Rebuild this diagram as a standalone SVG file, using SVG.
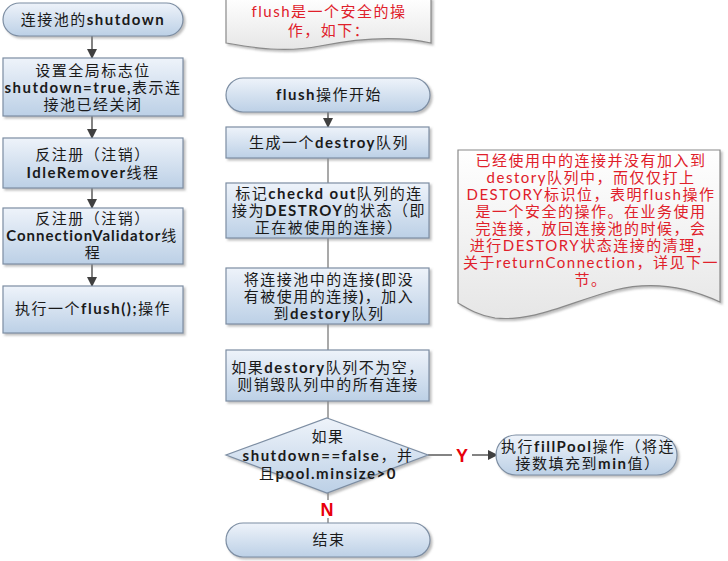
<svg xmlns="http://www.w3.org/2000/svg" width="728" height="561" viewBox="0 0 728 561">
<defs>
<linearGradient id="gBox" x1="0" y1="0" x2="0" y2="1">
<stop offset="0" stop-color="#eef3fa"/>
<stop offset="1" stop-color="#bcd0e6"/>
</linearGradient>
<linearGradient id="gNote" x1="0" y1="0" x2="0" y2="1">
<stop offset="0" stop-color="#ffffff"/>
<stop offset="1" stop-color="#e6e6e6"/>
</linearGradient>
<filter id="sh" x="-10%" y="-10%" width="130%" height="140%">
<feDropShadow dx="2" dy="2" stdDeviation="1.3" flood-color="#888" flood-opacity="0.55"/>
</filter>
<marker id="ah" markerWidth="10" markerHeight="10" refX="9" refY="5" orient="auto" markerUnits="userSpaceOnUse">
<path d="M0,0 L10,5 L0,10 Z" fill="#404040"/>
</marker>
</defs>
<style>
.box{fill:url(#gBox);stroke:#7d8ea3;stroke-width:1.2;filter:url(#sh)}
.note{fill:url(#gNote);stroke:#8a8a8a;stroke-width:1.2;filter:url(#sh)}
text{font-family:"Lato","Noto Sans CJK SC",sans-serif;font-size:15px;letter-spacing:1.5px;fill:#1a1a1a;text-anchor:middle}
.b{font-weight:bold}
.red{fill:#e0202a}
.lbl{font-family:"Liberation Sans",sans-serif;font-weight:bold;font-size:18px;letter-spacing:0;fill:#e8000b}
.cl{stroke:#404040;stroke-width:1.3;fill:none}
.cm{stroke:#8c8c8c;stroke-width:1.5;fill:none}
</style>

<g id="connectors">
<line class="cl" x1="92" y1="36" x2="92" y2="58" marker-end="url(#ah)"/>
<line class="cl" x1="92" y1="116" x2="92" y2="138" marker-end="url(#ah)"/>
<line class="cl" x1="92" y1="188" x2="92" y2="208" marker-end="url(#ah)"/>
<line class="cl" x1="92" y1="264" x2="92" y2="286" marker-end="url(#ah)"/>
<line class="cl" x1="328" y1="112" x2="328" y2="127" marker-end="url(#ah)"/>
<line class="cm" x1="328" y1="158" x2="328" y2="183"/>
<line class="cm" x1="328" y1="238" x2="328" y2="268"/>
<line class="cm" x1="328" y1="324" x2="328" y2="350"/>
<line class="cm" x1="328" y1="401" x2="328" y2="418"/>
<line class="cl" x1="428" y1="455" x2="452" y2="455"/>
<line class="cl" x1="472" y1="455" x2="497" y2="455" marker-end="url(#ah)"/>
<line class="cm" x1="328" y1="493" x2="328" y2="500"/>
<line class="cm" x1="328" y1="518" x2="328" y2="523"/>
<text class="lbl" x="462" y="462">Y</text>
<text class="lbl" x="327" y="516">N</text>
</g>

<g id="n_shutdown">
<rect class="box" x="3" y="3" width="180" height="33" rx="16.5"/>
<text x="93" y="25">连接池的<tspan class="b">shutdown</tspan></text>
</g>
<g id="n_setflag">
<rect class="box" x="3" y="58" width="180" height="58"/>
<text x="93" y="76">设置全局标志位</text>
<text x="93" y="93"><tspan class="b">shutdown=true,</tspan>表示连</text>
<text x="93" y="110">接池已经关闭</text>
</g>
<g id="n_idle">
<rect class="box" x="3" y="138" width="180" height="50"/>
<text x="93" y="160">反注册（注销）</text>
<text x="93" y="178"><tspan class="b">IdleRemover</tspan>线程</text>
</g>
<g id="n_validator">
<rect class="box" x="3" y="208" width="180" height="56"/>
<text x="93" y="224">反注册（注销）</text>
<text x="92" y="241"><tspan class="b" letter-spacing="1">ConnectionValidator</tspan>线</text>
<text x="93" y="258">程</text>
</g>
<g id="n_flush">
<rect class="box" x="3" y="286" width="180" height="47"/>
<text x="93" y="314">执行一个<tspan class="b">flush();</tspan>操作</text>
</g>

<g id="n_note_top">
<path class="note" d="M226,-2 H431 V43 C400,36 360,38 320,46 C285,53 255,48 226,43 Z"/>
<text class="red" x="329" y="17">flush是一个安全的操</text>
<text class="red" x="329" y="36">作，如下：</text>
</g>
<g id="n_start">
<rect class="box" x="226" y="78" width="204" height="34" rx="17"/>
<text x="329" y="100"><tspan class="b">flush</tspan>操作开始</text>
</g>
<g id="n_gen">
<rect class="box" x="226" y="127" width="203" height="31"/>
<text x="329" y="148">生成一个<tspan class="b">destroy</tspan>队列</text>
</g>
<g id="n_mark">
<rect class="box" x="226" y="183" width="203" height="55"/>
<text x="329" y="199">标记<tspan class="b">checkd out</tspan>队列的连</text>
<text x="329" y="216">接为<tspan class="b">DESTROY</tspan>的状态（即</text>
<text x="329" y="233">正在被使用的连接）</text>
</g>
<g id="n_add">
<rect class="box" x="226" y="268" width="203" height="56"/>
<text x="329" y="285">将连接池中的连接<tspan class="b">(</tspan>即没</text>
<text x="329" y="302">有被使用的连接<tspan class="b">)</tspan>，加入</text>
<text x="329" y="319">到<tspan class="b">destory</tspan>队列</text>
</g>
<g id="n_destroy">
<rect class="box" x="226" y="350" width="203" height="51"/>
<text x="328" y="373">如果<tspan class="b">destory</tspan>队列不为空，</text>
<text x="328" y="390">则销毁队列中的所有连接</text>
</g>
<g id="n_cond">
<polygon class="box" points="327,418 428,455 327,493 226,455"/>
<text x="328" y="442">如果</text>
<text x="328" y="461"><tspan class="b">shutdown==false</tspan>，并</text>
<text x="328" y="479">且<tspan class="b">pool.minsize&gt;0</tspan></text>
</g>
<g id="n_end">
<rect class="box" x="226" y="523" width="204" height="34" rx="17"/>
<text x="329" y="545">结束</text>
</g>

<g id="n_fill">
<rect class="box" x="496" y="435" width="181" height="40" rx="20"/>
<text x="588" y="452">执行<tspan class="b">fillPool</tspan>操作（将连</text>
<text x="588" y="469">接数填充到<tspan class="b">min</tspan>值）</text>
</g>

<g id="n_note_right">
<path class="note" d="M458,150 H720 V302 C690,288 655,280 615,290 C570,302 535,322 495,318 C480,316 468,309 458,303 Z"/>
<text class="red" x="591" y="166">已经使用中的连接并没有加入到</text>
<text class="red" x="591" y="183">destory队列中，而仅仅打上</text>
<text class="red" x="591" y="200">DESTORY标识位，表明flush操作</text>
<text class="red" x="591" y="217">是一个安全的操作。在业务使用</text>
<text class="red" x="591" y="234">完连接，放回连接池的时候，会</text>
<text class="red" x="591" y="251">进行DESTORY状态连接的清理，</text>
<text class="red" x="591" y="268">关于returnConnection，详见下一</text>
<text class="red" x="591" y="285">节。</text>
</g>
</svg>
